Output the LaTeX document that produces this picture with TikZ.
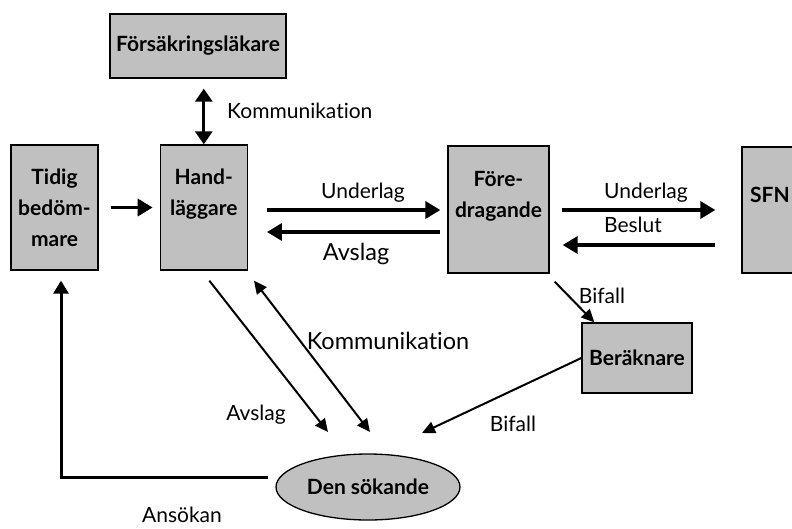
\documentclass[tikz,border=0pt]{standalone}
\usepackage{fontspec}
\setmainfont{Lato}[Ligatures=NoCommon]
\usetikzlibrary{arrows.meta,shapes.geometric,positioning,calc}
\definecolor{boxgrey}{RGB}{192,192,192}

\begin{document}
\begin{tikzpicture}[x=1pt,y=-1pt,
  k/.style={rectangle,draw,line width=1.3pt,fill=boxgrey,inner sep=0pt,align=center,font=\bfseries\fontsize{21}{31}\selectfont},
  ell/.style={ellipse,draw,line width=1.3pt,fill=boxgrey,inner sep=0pt,minimum width=184pt,minimum height=66pt,font=\bfseries\fontsize{21}{31}\selectfont},
  lab/.style={inner sep=0pt,font=\fontsize{21}{25}\selectfont},
  big/.style={inner sep=0pt,font=\fontsize{23.5}{28}\selectfont},
  thk/.style={line width=3.5pt,-{Triangle[length=15pt,width=17pt]}},
  thn/.style={line width=2pt,-{Triangle[length=13pt,width=12pt]}}]
  \clip (0,0) rectangle (792,528);

  \node[k,minimum width=176pt,minimum height=64pt] (fl) at (198,46) {Försäkringsläkare};
  \node[k,minimum width=87pt,minimum height=125pt] (tb) at (54.5,207.5) {Tidig\\bedöm-\\mare};
  \node[k,minimum width=87pt,minimum height=125pt,right=61pt of tb] (hl) {Hand-\\läggare\\\mbox{}};
  \node[k,minimum width=101pt,minimum height=127pt] (fd) at (498.5,209.5) {Före-\\dragande\\\mbox{}};
  \node[k,minimum width=56pt,minimum height=126pt] (sfn) at (770,210) {SFN\\\mbox{}};
  \node[k,minimum width=110pt,minimum height=70pt] (bk) at (637,358) {Beräknare};
  \node[ell] (ds) at (368,487) {Den sökande};

  \coordinate (r1) at (0,210);
  \coordinate (r2) at (0,232);
  \coordinate (r3) at (0,245);

  % top
  \draw[thk,{Triangle[length=13pt,width=17pt]}-{Triangle[length=13pt,width=17pt]},line width=3pt,shorten >=10pt] (hl.north) -- (hl.north |- fl.south);
  \node[lab,anchor=west] (komm1) at (227,111) {Kommunikation};
  \draw[thk,shorten <=12pt,shorten >=7pt] (tb.east) -- (hl.west);

  % handlaggare <-> foredragande
  \draw[thk,shorten <=19pt,shorten >=7pt] (hl.east |- r1) -- (fd.west |- r1);
  \node[lab] (ul1) at (363,193) {Underlag};
  \draw[thk,shorten <=7pt,shorten >=19pt] (fd.west |- r2) -- (hl.east |- r2);
  \node[big] (av1) at (356,254) {Avslag};

  % foredragande <-> SFN
  \draw[thk,shorten <=12pt,shorten >=26pt] (fd.east |- r1) -- (sfn.west |- r1);
  \node[lab] (ul2) at (646,193) {Underlag};
  \draw[thk,shorten <=26pt,shorten >=13pt] (sfn.west |- r3) -- (fd.east |- r3);
  \node[lab] (bs) at (633,225) {Beslut};

  % bifall
  \draw[thn] ($(fd.south east)+(5,8)$) -- ($(bk.north west)+(13,0)$);
  \node[lab] (bf1) at (602,296) {Bifall};
  \draw[thn] (bk.west) -- ($(ds.center)+(54,-54)$);
  \node[lab] (bf2) at (513,424) {Bifall};

  % den sokande
  \draw[thn] ($(hl.south)+(5.5,10)$) -- ($(ds.center)+(-40,-55)$);
  \node[lab] (av2) at (256,415) {Avslag};
  \draw[thn,{Triangle[length=13pt,width=12pt]}-{Triangle[length=13pt,width=12pt]}] ($(hl.south east)+(6,10)$) -- ($(ds.center)+(2,-55)$);
  \node[big] (komm2) at (388,341) {Kommunikation};
  \draw[line width=3pt,-{Triangle[length=13pt,width=15pt]}] ($(ds.west)+(-7,-10)$) -| ($(tb.south)+(6.5,10)$);
  \node[lab] (ans) at (182,515) {Ansökan};
\end{tikzpicture}
\end{document}
